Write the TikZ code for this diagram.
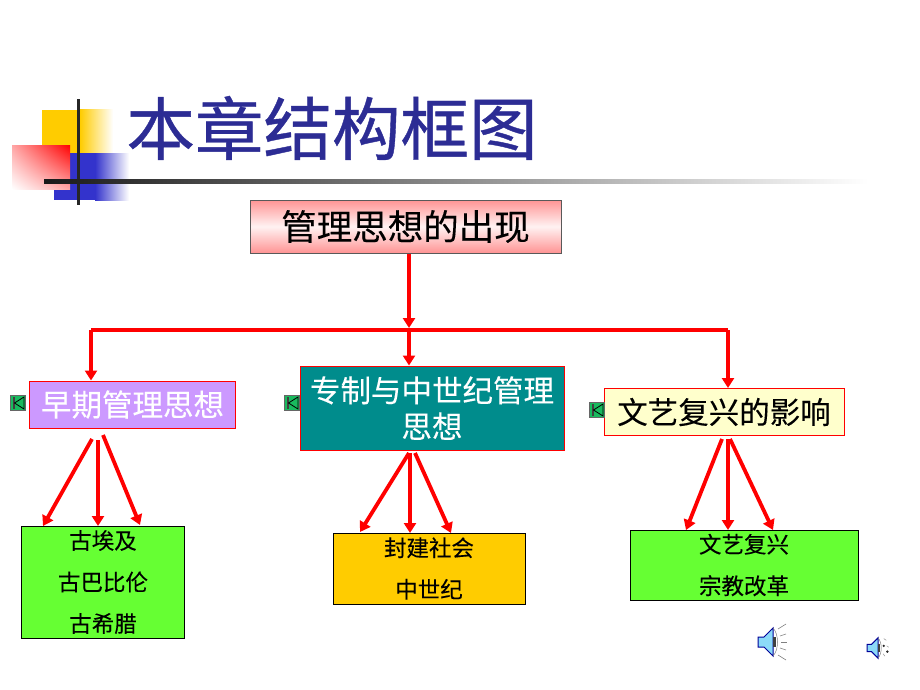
\documentclass[tikz,border=0pt]{standalone}
\usepackage{fontspec}
\setmainfont{Noto Sans CJK SC}
\newfontfamily\cjk[FakeBold=0.6]{Noto Sans CJK SC}
\newfontfamily\cjkm[FakeBold=0.15]{Noto Sans CJK SC}
\usetikzlibrary{arrows.meta,calc,shadings}
\definecolor{ttl}{RGB}{44,44,148}
\definecolor{rd}{RGB}{255,0,0}
\definecolor{grn}{RGB}{102,255,51}
\definecolor{teal2}{RGB}{0,140,140}
\definecolor{lil}{RGB}{204,153,255}
\definecolor{cream}{RGB}{255,255,204}
\definecolor{gold2}{RGB}{255,204,0}
\definecolor{blu}{RGB}{51,51,204}
\tikzset{
  x=1pt,y=-1pt,
  boxa/.style={draw=rd,line width=1pt,minimum height=#1,inner sep=0pt,align=center,font=\cjkm\fontsize{30.5}{36}\selectfont},
  boxb/.style={draw=black,line width=.8pt,inner sep=0pt,align=center,font=\cjkm\fontsize{22.5}{41.5}\selectfont},
  con/.style={draw=rd,line width=3.8pt,-{Triangle[length=10pt,width=12pt]}},
  seg/.style={draw=rd,line width=3.8pt},
  ret/.style={draw=black!60,fill=teal!60!green!90!white,line width=.8pt,minimum width=15pt,minimum height=15pt,inner sep=0pt},
}
\newcommand{\retglyph}[1]{%
  \fill[black!75] ($(#1)+(-5.5,-6)$) rectangle ($(#1)+(-3.5,6)$);
  \draw[black,line width=.8pt] ($(#1)+(6,-6)$) -- ($(#1)+(-3.5,0)$) -- ($(#1)+(6,6)$) -- cycle;}
\newcommand{\spkbody}{%
    \draw[fill=cyan!45,draw=blue!60!black,line width=1pt] (-15,-5) -- (-9,-5) -- (0,-14) -- (0,14) -- (-9,5) -- (-15,5) -- cycle;
    \fill[black!75] (0,-5) rectangle (3,5);
    \draw[black!50,line width=.5pt] (0,-14) .. controls (6,-8) and (6,8) .. (0,14);}
\begin{document}
\begin{tikzpicture}
\useasboundingbox (0,0) rectangle (920,690);
\fill[white] (0,0) rectangle (920,690);
% logo
\fill[gold2] (42,110) rectangle (80,153);
\shade[left color=gold2,right color=white] (80,110) rectangle (113,153);
\fill[blu] (70,153) rectangle (95,200);
\fill[blu] (54,189) rectangle (70,200);
\shade[left color=blu,right color=white] (95,153) rectangle (129,200);
\shade[upper right=rd,lower left=white,upper left=rd!35!white,lower right=rd!35!white] (12,145) rectangle (70,189);
\fill[black!85] (77,99) rectangle (80,205);
\shade[left color=black!90,right color=white] (44,179) rectangle (868,183);
% title
\node[text=ttl,font=\cjk\fontsize{68.5}{68}\selectfont,anchor=center,inner sep=0pt] (title) at (332,128) {本章结构框图};
% top
\node[boxa=53pt,minimum width=311pt,font=\cjkm\fontsize{35.5}{36}\selectfont,top color=rd!42!white,bottom color=rd!42!white,middle color=rd!5!white,draw=black!65] (top) at (405.5,226.5) {管理思想的出现};
% level 2
\node[boxa=47pt,minimum width=206pt,fill=lil,text=white] (a) at (132.5,404.5) {早期管理思想};
\node[boxa=84pt,minimum width=264pt,fill=teal2,text=white] (b) at (432,408) {专制与中世纪管理\\思想};
\node[boxa=47pt,minimum width=240pt,fill=cream,text=black] (c) at (724,412) {文艺复兴的影响};
% level 3
\node[boxb,minimum width=163pt,minimum height=112pt,fill=grn] (p) at (103,582) {古埃及\\古巴比伦\\古希腊};
\node[boxb,minimum width=192pt,minimum height=71pt,fill=gold2] (q) at (429,568.5) {封建社会\\中世纪};
\node[boxb,minimum width=228pt,minimum height=70pt,fill=grn] (r) at (744,565) {文艺复兴\\宗教改革};
% connectors
\coordinate (j) at (409,328);
\coordinate (ja) at (91,330);
\coordinate (jc) at (728,330);
\draw[con] (top.south -| j) -- (j);
\draw[seg] (ja) -- (jc);
\draw[con] (ja) -- (ja |- a.north);
\draw[con] (j) -- (j |- b.north);
\draw[con] (jc) -- (jc |- c.north);
\coordinate (a1) at (92,439);\coordinate (a2) at (98,440);\coordinate (a3) at (103,435);
\coordinate (p1) at (43,526);\coordinate (p2) at (98,526);\coordinate (p3) at (140,525);
\draw[con] (a1) -- (p1);\draw[con] (a2) -- (p2);\draw[con] (a3) -- (p3);
\coordinate (b1) at (409,453);\coordinate (b2) at (410,453);\coordinate (b3) at (415,453);
\coordinate (q1) at (360,532);\coordinate (q2) at (410,533);\coordinate (q3) at (451,533);
\draw[con] (b1) -- (q1);\draw[con] (b2) -- (q2);\draw[con] (b3) -- (q3);
\coordinate (c1) at (722,439);\coordinate (c2) at (728,439);\coordinate (c3) at (730,439);
\coordinate (r1) at (686,530);\coordinate (r2) at (728,530);\coordinate (r3) at (773,530);
\draw[con] (c1) -- (r1);\draw[con] (c2) -- (r2);\draw[con] (c3) -- (r3);
% return buttons
\node[ret] (ra) at (18,403) {}; \retglyph{ra}
\node[ret] (rb) at (292,403) {}; \retglyph{rb}
\node[ret] (rc) at (597,410) {}; \retglyph{rc}
% speakers
\begin{scope}[shift={(773,642)}]
  \spkbody
  \foreach \a/\b/\c/\d in {5/-13/13/-18,7/-6/13/-8,8/0/14/0,7/6/13/8,5/13/13/18}{\draw[black!50,line width=.6pt] (\a,\b) -- (\c,\d);}
\end{scope}
\begin{scope}[shift={(878,648)},scale=.72]
  \spkbody
  \fill[black!85] (8,-3) circle (1.8);
  \fill[black!85] (13,5) circle (1.8);
  \draw[black!40,line width=.5pt,dashed] (8,-13) -- (14,-9) (12,-3) -- (15,-1) (7,8) -- (11,13);
\end{scope}
\end{tikzpicture}
\end{document}
